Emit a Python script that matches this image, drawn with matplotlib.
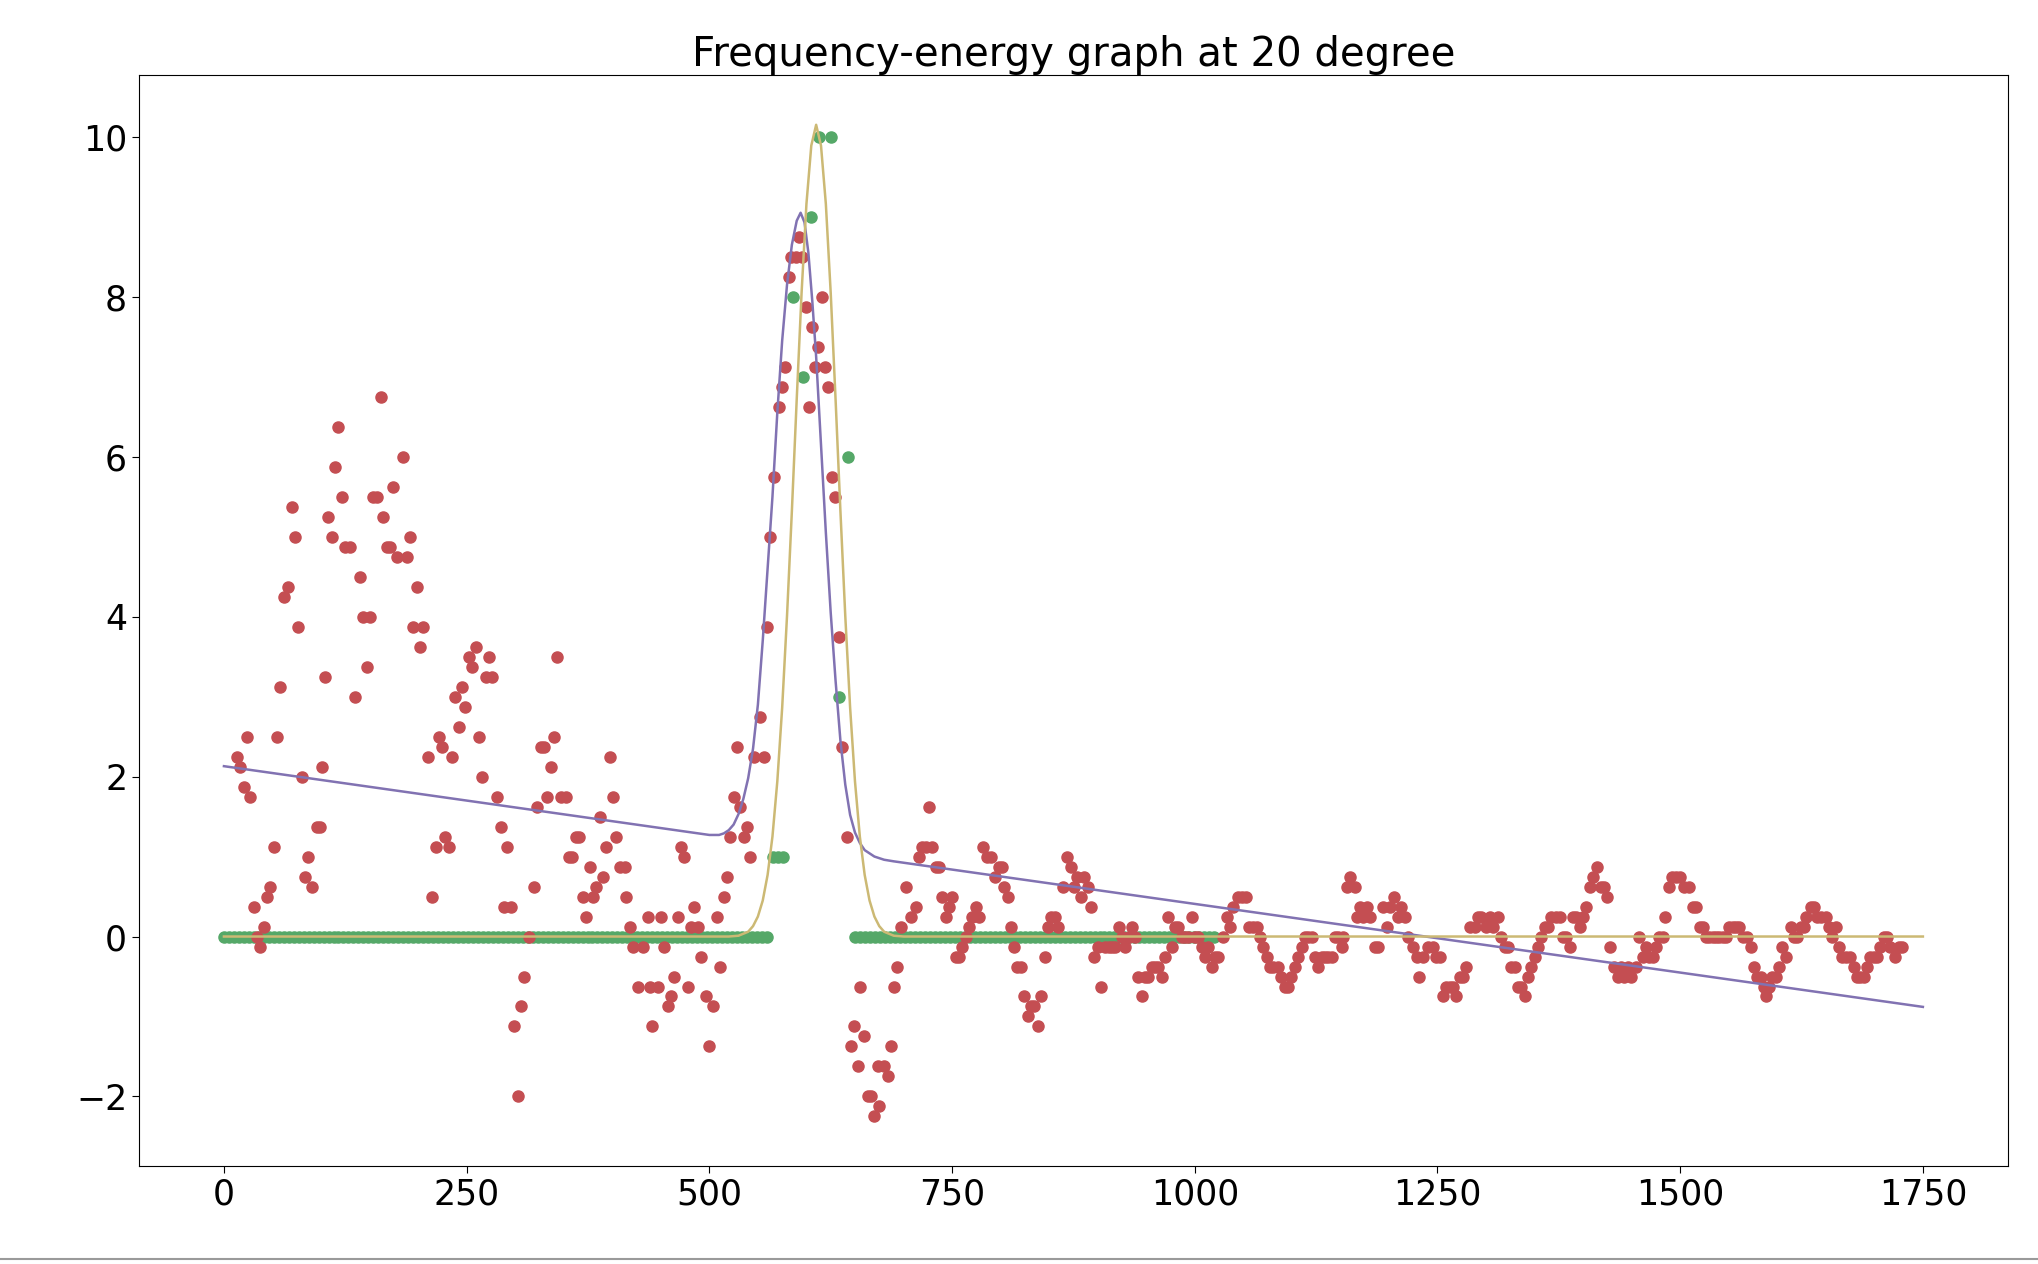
import numpy as np
import matplotlib

matplotlib.use("Agg")
from matplotlib import pyplot as plt
from matplotlib.lines import Line2D

# colours (seaborn "deep")
RED = "#C44E52"
GREEN = "#55A868"
PURPLE = "#8172B2"
YELLOW = "#CCB974"

# measured spectrum (red)
red_x = [
    13.4, 16.8, 20.2, 23.6, 27.1, 30.5, 33.9, 37.4, 40.8, 44.2, 47.6, 51.1, 54.5, 57.9, 61.4,
    66.5, 69.9, 73.4, 76.8, 80.2, 83.6, 87.1, 90.5, 95.6, 99.0, 100.7, 104.2, 107.6, 111.0,
    114.5, 117.9, 121.3, 124.7, 129.9, 135.0, 140.2, 143.6, 147.0, 150.5, 153.9, 157.3, 161.4,
    164.2, 167.6, 171.0, 174.5, 177.9, 184.7, 188.2, 191.6, 195.0, 198.4, 201.9, 205.3, 210.4,
    214.5, 218.0, 221.4, 224.8, 228.2, 231.7, 235.1, 238.5, 242.0, 245.4, 248.8, 252.3, 255.7,
    259.5, 262.9, 266.3, 269.8, 273.2, 276.6, 281.7, 285.2, 288.6, 292.0, 295.5, 298.9, 302.4,
    305.8, 309.2, 314.3, 319.5, 322.9, 326.3, 329.7, 333.2, 336.6, 340.0, 343.5, 346.9, 352.0,
    355.5, 358.9, 362.3, 365.7, 370.0, 373.3, 376.8, 380.2, 383.7, 387.1, 390.5, 393.9, 397.4,
    400.8, 404.2, 407.7, 412.8, 414.5, 417.9, 421.3, 426.5, 431.6, 436.7, 438.4, 441.0, 446.9,
    450.3, 453.7, 457.2, 460.6, 464.0, 467.4, 470.9, 474.3, 477.7, 481.1, 484.6, 488.0, 491.4,
    496.6, 500.0, 503.4, 507.9, 511.3, 514.7, 518.1, 521.6, 525.0, 528.4, 531.8, 535.3, 538.7,
    542.1, 545.6, 552.4, 556.0, 559.3, 562.7, 566.2, 571.3, 574.7, 578.2, 581.6, 584.0, 589.1,
    592.5, 595.9, 599.4, 602.8, 605.5, 608.9, 612.3, 615.7, 619.2, 622.6, 626.0, 629.5, 633.6,
    636.3, 641.5, 645.8, 649.2, 652.6, 655.4, 659.5, 663.0, 666.4, 669.8, 673.3, 675.0, 680.1,
    683.6, 687.0, 690.4, 693.6, 697.0, 702.2, 707.3, 712.5, 715.9, 719.3, 722.7, 726.2, 729.6,
    733.0, 736.4, 739.9, 743.3, 746.8, 750.2, 753.6, 757.1, 760.5, 763.9, 767.3, 770.8, 774.2,
    777.6, 782.1, 786.2, 789.6, 794.7, 798.2, 801.6, 804.0, 807.4, 810.9, 814.3, 817.0, 821.1,
    824.5, 828.0, 831.4, 834.8, 838.2, 841.6, 845.5, 849.0, 852.4, 855.8, 859.2, 864.4, 868.9,
    872.3, 875.7, 879.1, 882.6, 886.0, 890.1, 892.8, 896.3, 900.4, 903.1, 907.8, 911.2, 914.6,
    918.0, 921.5, 924.9, 928.3, 931.8, 935.2, 938.6, 942.0, 945.5, 948.9, 952.3, 955.7, 959.2,
    962.6, 966.0, 969.4, 972.9, 976.3, 979.7, 983.1, 986.5, 989.9, 993.3, 996.8, 1000.2, 1003.7,
    1007.1, 1010.5, 1013.9, 1017.4, 1020.8, 1024.2, 1029.4, 1032.8, 1036.2, 1039.6, 1044.8,
    1048.2, 1052.6, 1056.0, 1059.5, 1063.6, 1067.0, 1070.4, 1073.9, 1077.3, 1080.7, 1085.9,
    1089.3, 1092.7, 1096.2, 1099.6, 1103.0, 1106.4, 1110.0, 1113.5, 1117.0, 1120.4, 1123.8,
    1127.2, 1130.6, 1134.0, 1137.5, 1140.9, 1144.3, 1147.7, 1151.2, 1152.9, 1156.3, 1160.4,
    1164.9, 1166.6, 1170.0, 1173.5, 1176.9, 1180.3, 1185.5, 1188.9, 1194.0, 1197.5, 1200.9,
    1205.0, 1209.5, 1212.9, 1216.3, 1219.8, 1224.9, 1228.4, 1231.1, 1235.2, 1240.3, 1245.5,
    1248.9, 1252.3, 1255.7, 1259.2, 1262.6, 1266.0, 1269.4, 1272.8, 1276.3, 1279.7, 1283.1,
    1288.2, 1291.7, 1295.1, 1300.2, 1303.7, 1307.2, 1312.3, 1315.7, 1319.2, 1322.6, 1326.0,
    1329.4, 1332.9, 1336.3, 1339.7, 1343.1, 1346.6, 1350.0, 1353.4, 1356.9, 1360.3, 1363.7,
    1367.1, 1372.3, 1375.7, 1379.1, 1382.6, 1386.0, 1389.4, 1392.8, 1396.3, 1399.7, 1403.1,
    1406.6, 1410.0, 1414.1, 1418.6, 1422.0, 1424.4, 1427.8, 1432.3, 1435.7, 1439.1, 1442.5,
    1446.0, 1449.4, 1454.5, 1457.3, 1461.4, 1464.8, 1467.5, 1471.6, 1475.1, 1478.5, 1481.9,
    1484.7, 1488.1, 1491.6, 1495.7, 1499.8, 1504.3, 1508.7, 1512.8, 1516.3, 1520.4, 1523.0,
    1526.5, 1529.9, 1533.3, 1536.7, 1540.2, 1543.6, 1547.0, 1550.4, 1553.9, 1557.3, 1560.7,
    1564.2, 1569.3, 1572.7, 1576.1, 1579.6, 1583.0, 1586.4, 1588.1, 1591.5, 1595.0, 1598.4,
    1601.8, 1605.2, 1609.4, 1613.8, 1617.2, 1620.6, 1624.0, 1627.5, 1629.2, 1634.3, 1637.7,
    1641.2, 1644.6, 1649.7, 1653.1, 1656.6, 1660.0, 1663.4, 1666.8, 1670.3, 1675.4, 1678.8,
    1682.3, 1685.7, 1689.1, 1692.5, 1696.0, 1699.4, 1702.8, 1706.2, 1709.7, 1713.1, 1716.5,
    1721.6, 1725.0, 1728.5,
]
red_y = [
    2.25, 2.125, 1.875, 2.5, 1.75, 0.375, 0, -0.125, 0.125, 0.5, 0.625, 1.125, 2.5, 3.125, 4.25,
    4.375, 5.375, 5.0, 3.875, 2.0, 0.75, 1.0, 0.625, 1.375, 1.375, 2.125, 3.25, 5.25, 5.0,
    5.875, 6.375, 5.5, 4.875, 4.875, 3.0, 4.5, 4.0, 3.375, 4.0, 5.5, 5.5, 6.75,
    5.25, 4.875, 4.875, 5.625, 4.75, 6.0, 4.75, 5.0, 3.875, 4.375, 3.625, 3.875, 2.25,
    0.5, 1.125, 2.5, 2.375, 1.25, 1.125, 2.25, 3.0, 2.625, 3.125, 2.875, 3.5, 3.375,
    3.625, 2.5, 2.0, 3.25, 3.5, 3.25, 1.75, 1.375, 0.375, 1.125, 0.375, -1.125, -2.0,
    -0.875, -0.5, 0, 0.625, 1.625, 2.375, 2.375, 1.75, 2.125, 2.5, 3.5, 1.75, 1.75,
    1.0, 1.0, 1.25, 1.25, 0.5, 0.25, 0.875, 0.5, 0.625, 1.5, 0.75, 1.125, 2.25,
    1.75, 1.25, 0.875, 0.875, 0.5, 0.125, -0.125, -0.625, -0.125, 0.25, -0.625, -1.125, -0.625,
    0.25, -0.125, -0.875, -0.75, -0.5, 0.25, 1.125, 1.0, -0.625, 0.125, 0.375, 0.125, -0.25,
    -0.75, -1.375, -0.875, 0.25, -0.375, 0.5, 0.75, 1.25, 1.75, 2.375, 1.625, 1.25, 1.375,
    1.0, 2.25, 2.75, 2.25, 3.875, 5.0, 5.75, 6.625, 6.875, 7.125, 8.25, 8.5, 8.5,
    8.75, 8.5, 7.875, 6.625, 7.625, 7.125, 7.375, 8.0, 7.125, 6.875, 5.75, 5.5, 3.75,
    2.375, 1.25, -1.375, -1.125, -1.625, -0.625, -1.25, -2.0, -2.0, -2.25, -1.625, -2.125, -1.625,
    -1.75, -1.375, -0.625, -0.375, 0.125, 0.625, 0.25, 0.375, 1.0, 1.125, 1.125, 1.625, 1.125,
    0.875, 0.875, 0.5, 0.25, 0.375, 0.5, -0.25, -0.25, -0.125, 0, 0.125, 0.25, 0.375,
    0.25, 1.125, 1.0, 1.0, 0.75, 0.875, 0.875, 0.625, 0.5, 0.125, -0.125, -0.375, -0.375,
    -0.75, -1.0, -0.875, -0.875, -1.125, -0.75, -0.25, 0.125, 0.25, 0.25, 0.125, 0.625, 1.0,
    0.875, 0.625, 0.75, 0.5, 0.75, 0.625, 0.375, -0.25, -0.125, -0.625, -0.125, -0.125, -0.125,
    -0.125, 0.125, 0, -0.125, 0, 0.125, 0, -0.5, -0.75, -0.5, -0.5, -0.375, -0.375,
    -0.375, -0.5, -0.25, 0.25, -0.125, 0.125, 0.125, 0, 0, 0, 0.25, 0, 0,
    -0.125, -0.25, -0.125, -0.375, -0.25, -0.25, 0, 0.25, 0.125, 0.375, 0.5,
    0.5, 0.5, 0.125, 0.125, 0.125, 0, -0.125, -0.25, -0.375, -0.375, -0.375,
    -0.5, -0.625, -0.625, -0.5, -0.375, -0.25, -0.125, 0, 0, 0, -0.25,
    -0.375, -0.25, -0.25, -0.25, -0.25, 0, 0, -0.125, 0, 0.625, 0.75,
    0.625, 0.25, 0.375, 0.25, 0.375, 0.25, -0.125, -0.125, 0.375, 0.125, 0.375,
    0.5, 0.25, 0.375, 0.25, 0, -0.125, -0.25, -0.5, -0.25, -0.125, -0.125,
    -0.25, -0.25, -0.75, -0.625, -0.625, -0.625, -0.75, -0.5, -0.5, -0.375, 0.125,
    0.125, 0.25, 0.25, 0.125, 0.25, 0.125, 0.25, 0, -0.125, -0.125, -0.375,
    -0.375, -0.625, -0.625, -0.75, -0.5, -0.375, -0.25, -0.125, 0, 0.125, 0.125,
    0.25, 0.25, 0.25, 0, 0, -0.125, 0.25, 0.25, 0.125, 0.25, 0.375,
    0.625, 0.75, 0.875, 0.625, 0.625, 0.5, -0.125, -0.375, -0.5, -0.375, -0.5,
    -0.375, -0.5, -0.375, 0, -0.25, -0.125, -0.25, -0.25, -0.125, 0, 0,
    0.25, 0.625, 0.75, 0.75, 0.75, 0.625, 0.625, 0.375, 0.375, 0.125, 0.125,
    0, 0, 0, 0, 0, 0, 0, 0.125, 0.125, 0.125, 0.125,
    0, 0, -0.125, -0.375, -0.5, -0.5, -0.625, -0.75, -0.625, -0.5, -0.5,
    -0.375, -0.125, -0.25, 0.125, 0, 0, 0.125, 0.125, 0.25, 0.375, 0.375,
    0.25, 0.25, 0.25, 0.125, 0, 0.125, -0.125, -0.25, -0.25, -0.25, -0.375,
    -0.5, -0.5, -0.5, -0.375, -0.25, -0.25, -0.25, -0.125, 0, 0, -0.125,
    -0.25, -0.125, -0.125,
]

# thresholded spectrum (green): flat zero stretches plus the peak samples
GREEN_STEP = 5.13
green_left_x = np.arange(0, 560, GREEN_STEP)
green_right_x = np.arange(650.5, 1022, GREEN_STEP)
green_peak_x = [565.2, 570.3, 575.5, 585.7, 596.0, 604.5, 613.1, 625.1, 633.7, 643.3]
green_peak_y = [1, 1, 1, 8, 7, 9, 10, 10, 3, 6]

# linear + gaussian fit (purple)
fit_lin_x = [0, 500, 510, 515, 520, 525, 530, 535, 540, 545, 550, 555, 560, 565, 570, 575,
             580, 585, 590, 594, 598, 602, 606, 610, 615, 620, 625, 630, 635, 640, 645, 650,
             655, 660, 670, 680, 690, 1750]
fit_lin_y = [2.13, 1.27, 1.27, 1.29, 1.33, 1.40, 1.53, 1.72, 1.98, 2.35, 2.90, 3.70, 4.60,
             5.50, 6.55, 7.45, 8.15, 8.65, 8.95, 9.05, 8.93, 8.55, 7.95, 7.25, 6.15, 5.05,
             4.05, 3.20, 2.45, 1.90, 1.52, 1.30, 1.17, 1.08, 1.00, 0.96, 0.94, -0.88]

# gaussian fit (yellow)
fit_gauss_x = [0, 520, 530, 540, 545, 550, 555, 560, 565, 570, 575, 580, 585, 590, 595, 600,
               605, 610, 615, 620, 625, 630, 635, 640, 645, 650, 655, 660, 665, 670, 675, 680,
               690, 700, 1750]
fit_gauss_y = [0, 0, 0.01, 0.06, 0.13, 0.25, 0.45, 0.77, 1.25, 1.94, 2.86, 4.01, 5.32, 6.72,
               8.05, 9.16, 9.89, 10.15, 9.89, 9.16, 8.05, 6.72, 5.32, 4.01, 2.86, 1.94, 1.25,
               0.77, 0.45, 0.25, 0.13, 0.06, 0.01, 0, 0]

X_TICKS = [0, 250, 500, 750, 1000, 1250, 1500, 1750]
Y_TICKS = [-2, 0, 2, 4, 6, 8, 10]

fig = plt.figure(figsize=(20.38, 12.64), dpi=100)
ax = fig.add_axes([0.0682, 0.0775, 0.917, 0.863])

ax.scatter(green_left_x, np.zeros(len(green_left_x)), s=64, color=GREEN, zorder=2)
ax.scatter(green_right_x, np.zeros(len(green_right_x)), s=64, color=GREEN, zorder=2)
ax.scatter(green_peak_x, green_peak_y, s=64, color=GREEN, zorder=2)
ax.scatter(red_x, red_y, s=64, color=RED, zorder=2)
ax.plot(fit_lin_x, fit_lin_y, color=PURPLE, lw=1.8, zorder=3)
ax.plot(fit_gauss_x, fit_gauss_y, color=YELLOW, lw=1.8, zorder=3)

ax.set_xlim(-87.5, 1837.5)
ax.set_ylim(-2.87, 10.77)
ax.set_xticks(X_TICKS)
ax.set_yticks(Y_TICKS)
ax.tick_params(labelsize=25, length=5)
ax.set_title("Frequency-energy graph at 20 degree", fontsize=29, pad=5)

fig.add_artist(Line2D([0, 1], [0.004, 0.004], color="#9a9a9a", lw=1.5))

fig.savefig("out.png", dpi=100, facecolor="white")
